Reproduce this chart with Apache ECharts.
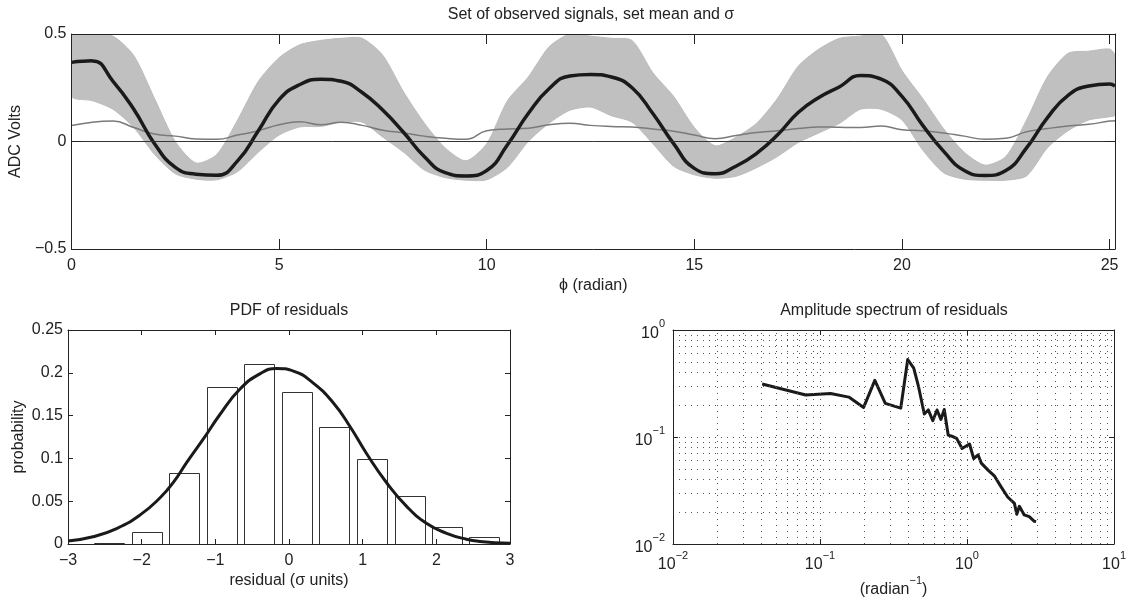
<!DOCTYPE html>
<html>
<head>
<meta charset="utf-8">
<title>Observed signals and residuals</title>
<script src="https://cdn.jsdelivr.net/npm/echarts@6/dist/echarts.min.js"></script>
<style>
    html, body { margin: 0; padding: 0; background: #fff; }
    #main { width: 1129px; height: 601px; }
</style>
</head>
<body>
<div id="main"></div>
<script>
// top panel: phase (radian), set mean, sigma and the band of observed signals
var phi = [0, 0.5, 1, 1.5, 2, 2.5, 3, 3.5, 4, 4.5, 5, 5.5, 6, 6.5, 7, 7.5, 8, 8.5, 9, 9.5,
    10, 10.5, 11, 11.5, 12, 12.5, 13, 13.5, 14, 14.5, 15, 15.5, 16, 16.5, 17, 17.5, 18, 18.5, 19, 19.5,
    20, 20.5, 21, 21.5, 22, 22.5, 23, 23.5, 24, 24.5, 25, 25.13];
var meanSig = [0.368, 0.375, 0.28, 0.15, -0.01, -0.12, -0.152, -0.157, -0.09, 0.05, 0.195, 0.265, 0.29, 0.28, 0.228, 0.145, 0.042, -0.071, -0.145, -0.16,
    -0.135, -0.015, 0.13, 0.245, 0.305, 0.312, 0.30, 0.25, 0.13, -0.01, -0.125, -0.15, -0.115, -0.055, 0.03, 0.135, 0.205, 0.255, 0.307, 0.29,
    0.21, 0.075, -0.045, -0.135, -0.158, -0.135, -0.03, 0.11, 0.215, 0.258, 0.267, 0.258];
var sigmaSig = [0.074, 0.09, 0.095, 0.065, 0.035, 0.025, 0.012, 0.01, 0.03, 0.05, 0.078, 0.092, 0.078, 0.09, 0.075, 0.052, 0.04, 0.025, 0.015, 0.01,
    0.05, 0.058, 0.062, 0.078, 0.085, 0.075, 0.07, 0.068, 0.058, 0.048, 0.03, 0.013, 0.028, 0.042, 0.05, 0.06, 0.068, 0.066, 0.065, 0.072,
    0.055, 0.05, 0.04, 0.025, 0.01, 0.015, 0.045, 0.06, 0.072, 0.08, 0.095, 0.097];
var bandHigh = [0.50, 0.50, 0.49, 0.40, 0.20, 0.0, -0.10, -0.06, 0.10, 0.28, 0.39, 0.45, 0.47, 0.48, 0.48, 0.40, 0.23, 0.085, -0.03, -0.09,
    -0.01, 0.19, 0.30, 0.44, 0.50, 0.49, 0.48, 0.47, 0.32, 0.21, 0.065, -0.02, 0.02, 0.085, 0.20, 0.35, 0.43, 0.48, 0.49, 0.50,
    0.33, 0.20, 0.06, -0.05, -0.11, -0.07, 0.10, 0.30, 0.41, 0.42, 0.43, 0.40];
var bandLow = [0.21, 0.19, 0.15, 0.065, -0.06, -0.15, -0.175, -0.178, -0.14, -0.05, 0.03, 0.068, 0.07, 0.09, 0.09, 0.02, -0.05, -0.133, -0.168, -0.18,
    -0.178, -0.12, 0.0, 0.085, 0.145, 0.16, 0.12, 0.09, -0.01, -0.115, -0.155, -0.171, -0.162, -0.122, -0.07, -0.005, 0.04, 0.085, 0.15, 0.15,
    0.10, -0.04, -0.145, -0.175, -0.18, -0.18, -0.16, -0.03, 0.05, 0.10, 0.115, 0.123];

// PDF of residuals: histogram bins and the fitted curve
var binCenter = [-2.445, -1.934, -1.425, -0.914, -0.405, 0.104, 0.614, 1.122, 1.635, 2.14, 2.65];
var binProb = [0.001, 0.0136, 0.0826, 0.1838, 0.2099, 0.1772, 0.1363, 0.0989, 0.0561, 0.0202, 0.0085];
var fitX = [-3, -2.66, -2.34, -2.02, -1.75, -1.57, -1.39, -1.16, -0.94, -0.665, -0.39, -0.17, 0.06, 0.33, 0.60, 0.83, 1.05, 1.33, 1.60, 1.87, 2.14, 2.41, 2.59, 3];
var fitY = [0.0035, 0.0085, 0.018, 0.034, 0.054, 0.072, 0.095, 0.123, 0.151, 0.181, 0.199, 0.205, 0.202, 0.188, 0.165, 0.137, 0.106, 0.071, 0.0436, 0.024, 0.0125, 0.0055, 0.003, 0.0008];

// amplitude spectrum of residuals
var specFreq = [0.0404, 0.080, 0.118, 0.157, 0.198, 0.236, 0.278, 0.354, 0.395, 0.434, 0.468, 0.512, 0.545, 0.585, 0.625, 0.664, 0.70, 0.745, 0.80, 0.85,
    0.925, 1.04, 1.11, 1.19, 1.25, 1.39, 1.54, 1.71, 1.89, 2.10, 2.18, 2.27, 2.45, 2.65, 2.87, 2.95];
var specAmp = [0.313, 0.247, 0.255, 0.236, 0.189, 0.338, 0.206, 0.186, 0.53, 0.44, 0.295, 0.164, 0.179, 0.142, 0.179, 0.146, 0.181, 0.104, 0.101, 0.097,
    0.078, 0.086, 0.063, 0.068, 0.057, 0.049, 0.043, 0.034, 0.0275, 0.024, 0.019, 0.0225, 0.0187, 0.018, 0.0163, 0.0162];

var FONT = '"Liberation Sans", Arial, Helvetica, sans-serif';
var INK = '#222';
var BIN_HALF = 0.2025;

function minus(v) {
    return String(v).replace('-', '\u2212');
}
function pow10(v) {
    return '{b|10}{s|' + minus(Math.round(Math.log10(v))) + '}';
}
var supRich = {
    b: { fontSize: 16, fontFamily: FONT, color: INK, padding: [7, 0, 0, 0], verticalAlign: 'bottom' },
    s: { fontSize: 11, fontFamily: FONT, color: INK, verticalAlign: 'top' }
};

// one axis of a boxed (matlab style) panel
function axis(opt) {
    var a = {
        gridIndex: opt.grid,
        type: opt.type || 'value',
        position: opt.pos,
        min: opt.min,
        max: opt.max,
        z: 5,
        axisLine: { onZero: false, lineStyle: { color: INK, width: 1 } },
        axisTick: { inside: true, length: opt.tick, lineStyle: { color: INK } },
        axisLabel: { show: !opt.mirror, margin: opt.margin, fontSize: 16, fontFamily: FONT, color: INK },
        splitLine: { show: false }
    };
    if (opt.interval != null) a.interval = opt.interval;
    if (opt.formatter) a.axisLabel.formatter = opt.formatter;
    if (opt.rich) a.axisLabel.rich = opt.rich;
    if (opt.name) {
        a.name = opt.name;
        a.nameLocation = 'middle';
        a.nameGap = opt.nameGap;
        a.nameTextStyle = { fontSize: 16, fontFamily: FONT, color: INK };
        if (opt.nameRich) a.nameTextStyle.rich = opt.nameRich;
    }
    return a;
}

var gridLines = [];
[0.01, 0.1, 1].forEach(function (d) {
    for (var m = 1; m <= 9; m++) {
        if (m * d > 0.011) gridLines.push({ xAxis: +(m * d).toPrecision(2) });
    }
});
[0.01, 0.1].forEach(function (d) {
    for (var m = 1; m <= 9; m++) {
        if (m * d > 0.011) gridLines.push({ yAxis: +(m * d).toPrecision(2) });
    }
});

var myChart = echarts.init(document.getElementById('main'));
var titleStyle = { fontSize: 16, fontWeight: 'normal', fontFamily: FONT, color: INK };

var option = {
    animation: false,
    backgroundColor: '#fff',
    title: [
        { text: 'Set of observed signals, set mean and \u03c3', left: 591, top: 7, textAlign: 'center', padding: 0, textStyle: titleStyle },
        { text: 'PDF of residuals', left: 289, top: 303, textAlign: 'center', padding: 0, textStyle: titleStyle },
        { text: 'Amplitude spectrum of residuals', left: 894, top: 303, textAlign: 'center', padding: 0, textStyle: titleStyle }
    ],
    grid: [
        { left: 68, top: 34, width: 1047, height: 215 },
        { left: 68, top: 330, width: 442, height: 214 },
        { left: 673, top: 330, width: 443, height: 214 }
    ],
    xAxis: [
        axis({ grid: 0, pos: 'bottom', min: 0, max: 25.13, interval: 5, tick: 10, margin: 9,
            formatter: function (v) { return v % 5 === 0 ? String(v) : ''; },
            name: '\u03d5 (radian)', nameGap: 29 }),
        axis({ grid: 0, pos: 'top', min: 0, max: 25.13, interval: 5, tick: 10, mirror: true }),
        axis({ grid: 1, pos: 'bottom', min: -3, max: 3, interval: 1, tick: 5, margin: 9, formatter: minus,
            name: 'residual (\u03c3 units)', nameGap: 29 }),
        axis({ grid: 1, pos: 'top', min: -3, max: 3, interval: 1, tick: 5, mirror: true }),
        axis({ grid: 2, type: 'log', pos: 'bottom', min: 0.01, max: 10, tick: 5, margin: 6, formatter: pow10, rich: supRich,
            name: '{b|(radian}{s|\u22121}{b|)}', nameGap: 31, nameRich: supRich }),
        axis({ grid: 2, type: 'log', pos: 'top', min: 0.01, max: 10, tick: 5, mirror: true })
    ],
    yAxis: [
        axis({ grid: 0, pos: 'left', min: -0.5, max: 0.5, interval: 0.5, tick: 10, margin: 5, formatter: minus,
            name: 'ADC Volts', nameGap: 42 }),
        axis({ grid: 0, pos: 'right', min: -0.5, max: 0.5, interval: 0.5, tick: 10, mirror: true }),
        axis({ grid: 1, pos: 'left', min: 0, max: 0.25, interval: 0.05, tick: 5, margin: 5,
            name: 'probability', nameGap: 41 }),
        axis({ grid: 1, pos: 'right', min: 0, max: 0.25, interval: 0.05, tick: 5, mirror: true }),
        axis({ grid: 2, type: 'log', pos: 'left', min: 0.01, max: 1, tick: 5, margin: 8, formatter: pow10, rich: supRich }),
        axis({ grid: 2, type: 'log', pos: 'right', min: 0.01, max: 1, tick: 5, mirror: true })
    ],
    series: [
        {
            // band covered by the observed signals
            type: 'custom',
            xAxisIndex: 0,
            yAxisIndex: 0,
            clip: true,
            silent: true,
            data: phi.map(function (p, i) { return [p, bandHigh[i], bandLow[i]]; }),
            encode: { x: 0, y: [1, 2] },
            renderItem: function (params, api) {
                if (params.dataIndex !== 0) return null;
                var pts = [];
                for (var i = 0; i < phi.length; i++) pts.push(api.coord([phi[i], bandHigh[i]]));
                for (var j = phi.length - 1; j >= 0; j--) pts.push(api.coord([phi[j], bandLow[j]]));
                return {
                    type: 'polygon',
                    shape: { points: pts, smooth: 0.25 },
                    style: { fill: '#c0c0c0', stroke: '#bcbcbc', lineWidth: 1 }
                };
            }
        },
        {
            type: 'line',
            xAxisIndex: 0,
            yAxisIndex: 0,
            data: phi.map(function (p, i) { return [p, sigmaSig[i]]; }),
            smooth: true,
            symbol: 'none',
            lineStyle: { color: '#7a7a7a', width: 1.5 },
            markLine: {
                silent: true,
                symbol: 'none',
                label: { show: false },
                lineStyle: { color: '#333', width: 1, type: 'solid' },
                data: [{ yAxis: 0 }]
            }
        },
        {
            type: 'line',
            xAxisIndex: 0,
            yAxisIndex: 0,
            data: phi.map(function (p, i) { return [p, meanSig[i]]; }),
            smooth: true,
            symbol: 'none',
            lineStyle: { color: '#1a1a1a', width: 3.5 }
        },
        {
            type: 'custom',
            xAxisIndex: 2,
            yAxisIndex: 2,
            data: binCenter.map(function (c, i) { return [c, binProb[i]]; }),
            renderItem: function (params, api) {
                var c = api.value(0), h = api.value(1);
                var p0 = api.coord([c - BIN_HALF, h]);
                var p1 = api.coord([c + BIN_HALF, 0]);
                return {
                    type: 'rect',
                    shape: { x: Math.round(p0[0]) + 0.5, y: Math.round(p0[1]) + 0.5, width: Math.round(p1[0] - p0[0]), height: Math.round(p1[1] - p0[1]) },
                    style: { fill: '#fff', stroke: '#333', lineWidth: 1 }
                };
            }
        },
        {
            type: 'line',
            xAxisIndex: 2,
            yAxisIndex: 2,
            data: fitX.map(function (x, i) { return [x, fitY[i]]; }),
            smooth: true,
            symbol: 'none',
            lineStyle: { color: '#1a1a1a', width: 3 }
        },
        {
            type: 'line',
            xAxisIndex: 4,
            yAxisIndex: 4,
            data: specFreq.map(function (f, i) { return [f, specAmp[i]]; }),
            symbol: 'none',
            lineStyle: { color: '#1a1a1a', width: 3, join: 'round' },
            markLine: {
                silent: true,
                symbol: 'none',
                label: { show: false },
                lineStyle: { color: '#555', width: 1, type: [1, 5] },
                data: gridLines
            }
        }
    ]
};

myChart.setOption(option);
</script>
</body>
</html>
